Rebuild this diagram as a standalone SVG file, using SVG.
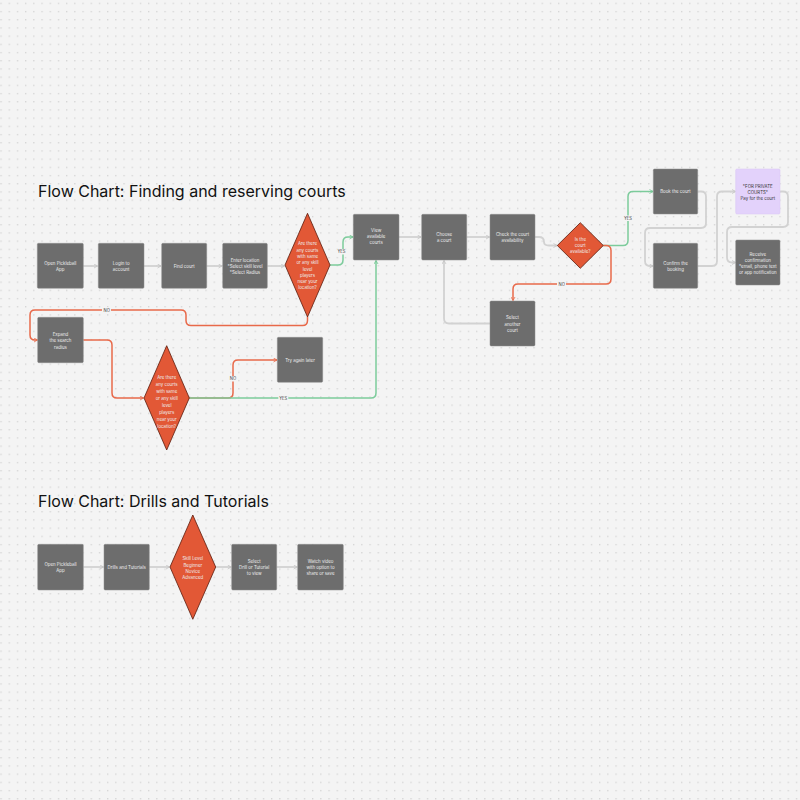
<svg xmlns="http://www.w3.org/2000/svg" width="800" height="800" viewBox="0 0 800 800">
<defs>
<pattern id="dots" patternUnits="userSpaceOnUse" x="0.4" y="2.7" width="8.2" height="8.2">
<rect x="0" y="0" width="1.3" height="1.3" fill="#d3d3d3"/>
</pattern>
<marker id="ag" viewBox="0 0 10 10" refX="9" refY="5" markerWidth="5" markerHeight="5" markerUnits="userSpaceOnUse" orient="auto"><path d="M2,1 L9,5 L2,9" fill="none" stroke="#c4c4c4" stroke-width="1.6"/></marker>
<marker id="agr" viewBox="0 0 10 10" refX="9" refY="5" markerWidth="5" markerHeight="5" markerUnits="userSpaceOnUse" orient="auto"><path d="M2,1 L9,5 L2,9" fill="none" stroke="#72c592" stroke-width="1.6"/></marker>
<marker id="ao" viewBox="0 0 10 10" refX="9" refY="5" markerWidth="5" markerHeight="5" markerUnits="userSpaceOnUse" orient="auto"><path d="M2,1 L9,5 L2,9" fill="none" stroke="#e8694a" stroke-width="1.6"/></marker>
</defs>
<style>
.box{fill:#6d6d6d;stroke:#8c8c8c;stroke-width:0.5}
.dia{fill:#e25836;stroke:#5c1a0b;stroke-width:0.8}
.pur{fill:#e3d2fb;stroke:#d8c4f5;stroke-width:0.5}
.t{font-family:Inter,"Liberation Sans",sans-serif;font-size:4.4px;fill:#eeeeee;text-anchor:middle;dominant-baseline:central}
.td{fill:#333333}
.title{font-family:Inter,"Liberation Sans",sans-serif;font-size:16px;fill:#111111}
.cg{fill:none;stroke:#d2d2d2;stroke-width:1.8}
.cgr{fill:none;stroke:#7ccb9b;stroke-width:1.5}
.co{fill:none;stroke:#e8694a;stroke-width:1.5}
.lbl{font-family:Inter,"Liberation Sans",sans-serif;font-size:4.2px;fill:#444444;text-anchor:middle;dominant-baseline:central}
.lb{fill:#f4f4f4}
</style>
<rect width="800" height="800" fill="#f4f4f4"/>
<rect width="800" height="800" fill="url(#dots)"/>

<text class="title" x="38" y="197">Flow Chart: Finding and reserving courts</text>
<text class="title" x="38" y="507">Flow Chart: Drills and Tutorials</text>

<g id="connectors">
<path class="cg" d="M83.3,266 H97.5" marker-end="url(#ag)"/>
<path class="cg" d="M144,266 H161" marker-end="url(#ag)"/>
<path class="cg" d="M206.7,266 H222" marker-end="url(#ag)"/>
<path class="cg" d="M267.3,266 H284.5" marker-end="url(#ag)"/>
<path class="cgr" d="M330,265 H338 Q343,265 343,260 V242 Q343,237 348,237 H353" marker-end="url(#agr)"/>
<path class="cg" d="M399,237 H421" marker-end="url(#ag)"/>
<path class="cg" d="M466.7,237 H489.5" marker-end="url(#ag)"/>
<path class="cg" d="M535,237 H539 Q544,237 544,242 Q544,245.5 549,245.5 H557" marker-end="url(#ag)"/>
<path class="cgr" d="M603.3,245.5 H623 Q628,245.5 628,240.5 V196.5 Q628,191.5 633,191.5 H653" marker-end="url(#agr)"/>
<path class="co" d="M603.3,245.5 H606 Q611,245.5 611,250.5 V279 Q611,284 606,284 H518 Q513,284 513,289 V300.5" marker-end="url(#ao)"/>
<path class="cg" d="M490,323.5 H449 Q444,323.5 444,318.5 V260.5" marker-end="url(#ag)"/>
<path class="cg" d="M697.7,191.5 H701 Q706,191.5 706,196.5 V223 Q706,228 701,228 H650 Q645,228 645,233 V261 Q645,266 650,266 H653" marker-end="url(#ag)"/>
<path class="cg" d="M697.7,266 H712 Q717,266 717,261 V196.5 Q717,191.5 722,191.5 H735.5" marker-end="url(#ag)"/>
<path class="cg" d="M780,191.5 H783 Q788,191.5 788,196.5 V222 Q788,227 783,227 H732 Q727,227 727,232 V257.5 Q727,262.5 732,262.5 H735.5" marker-end="url(#ag)"/>
<path class="co" d="M307.5,317 V320.5 Q307.5,325.5 302.5,325.5 H191 Q186,325.5 186,320.5 V315 Q186,310 181,310 H35 Q30,310 30,315 V335 Q30,340 35,340 H37.5" marker-end="url(#ao)"/>
<path class="co" d="M83.3,340 H107 Q112,340 112,345 V393 Q112,398 117,398 H143.5" marker-end="url(#ao)"/>
<path class="co" d="M189.3,398 H228 Q233,398 233,393 V365 Q233,360 238,360 H277" marker-end="url(#ao)"/>
<path class="cgr" d="M189.3,398 H371 Q376,398 376,393 V260.5" marker-end="url(#agr)"/>
<path class="cg" d="M83.3,567 H103.5" marker-end="url(#ag)"/>
<path class="cg" d="M149.3,567 H169.5" marker-end="url(#ag)"/>
<path class="cg" d="M215.7,567 H231.2" marker-end="url(#ag)"/>
<path class="cg" d="M276.7,567 H297.2" marker-end="url(#ag)"/>
<rect class="lb" x="336.5" y="249" width="10" height="5.5"/><text class="lbl" x="341.5" y="251.7">YES</text>
<rect class="lb" x="623" y="215.5" width="10" height="5.5"/><text class="lbl" x="628" y="218.3">YES</text>
<rect class="lb" x="557" y="281.3" width="9" height="5.5"/><text class="lbl" x="561.7" y="284.2">NO</text>
<rect class="lb" x="102" y="307.3" width="9" height="5.5"/><text class="lbl" x="106.7" y="310">NO</text>
<rect class="lb" x="228.5" y="376" width="9" height="5.5"/><text class="lbl" x="233" y="378.8">NO</text>
<rect class="lb" x="278.3" y="395.3" width="10" height="5.5"/><text class="lbl" x="283.3" y="398.2">YES</text>
</g>

<g id="open-app">
<rect class="box" x="37.3" y="243.3" width="46" height="45" rx="1.2"/>
<text class="t" x="60.3"><tspan x="60.3" y="263.3">Open Pickleball</tspan><tspan x="60.3" y="269.3">App</tspan></text>
</g>
<g id="login">
<rect class="box" x="98.3" y="243.3" width="45.7" height="45" rx="1.2"/>
<text class="t"><tspan x="121.2" y="263.3">Login to</tspan><tspan x="121.2" y="269.3">account</tspan></text>
</g>
<g id="find-court">
<rect class="box" x="161.7" y="243.3" width="45" height="45" rx="1.2"/>
<text class="t" x="184.2" y="266">Find court</text>
</g>
<g id="enter-location">
<rect class="box" x="222.7" y="243.3" width="44.6" height="45" rx="1.2"/>
<text class="t"><tspan x="245" y="259.7">Enter location</tspan><tspan x="245" y="266">*Select skill level</tspan><tspan x="245" y="272.3">*Select Radius</tspan></text>
</g>
<g id="decision-courts-near">
<polygon class="dia" points="307.5,213.3 330,265 307.5,317 285,265"/>
<text class="t"><tspan x="307.5" y="243.3">Are there</tspan><tspan x="307.5" y="249.6">any courts</tspan><tspan x="307.5" y="255.9">with same</tspan><tspan x="307.5" y="262.2">or any skill</tspan><tspan x="307.5" y="268.5">level</tspan><tspan x="307.5" y="274.8">players</tspan><tspan x="307.5" y="281.1">near your</tspan><tspan x="307.5" y="287.4">location?</tspan></text>
</g>
<g id="view-available">
<rect class="box" x="353.3" y="214.3" width="45.7" height="45.7" rx="1.2"/>
<text class="t"><tspan x="376.2" y="229.5">View</tspan><tspan x="376.2" y="235.8">available</tspan><tspan x="376.2" y="242.1">courts</tspan></text>
</g>
<g id="choose-court">
<rect class="box" x="421.7" y="214.3" width="45" height="45.7" rx="1.2"/>
<text class="t"><tspan x="444.2" y="234">Choose</tspan><tspan x="444.2" y="240">a court</tspan></text>
</g>
<g id="check-availability">
<rect class="box" x="490" y="214.3" width="45" height="45.7" rx="1.2"/>
<text class="t"><tspan x="512.5" y="234">Check the court</tspan><tspan x="512.5" y="240">availability</tspan></text>
</g>
<g id="decision-available">
<polygon class="dia" points="580.3,222.7 603.3,245.5 580.3,268.3 557.3,245.5"/>
<text class="t"><tspan x="580.3" y="239">Is the</tspan><tspan x="580.3" y="245.2">court</tspan><tspan x="580.3" y="251.4">available?</tspan></text>
</g>
<g id="select-another">
<rect class="box" x="490" y="301" width="45" height="45" rx="1.2"/>
<text class="t"><tspan x="512.5" y="317.3">Select</tspan><tspan x="512.5" y="323.6">another</tspan><tspan x="512.5" y="329.9">court</tspan></text>
</g>
<g id="book-court">
<rect class="box" x="653.3" y="169" width="44.4" height="45" rx="1.2"/>
<text class="t" x="675.5" y="191.5">Book the court</text>
</g>
<g id="pay-private">
<rect class="pur" x="735.7" y="169" width="44.3" height="45" rx="1.2"/>
<text class="t td"><tspan x="757.8" y="185.7">*FOR PRIVATE</tspan><tspan x="757.8" y="191.9">COURTS*</tspan><tspan x="757.8" y="198.1">Pay for the court</tspan></text>
</g>
<g id="confirm-booking">
<rect class="box" x="653.3" y="243.3" width="44.4" height="45" rx="1.2"/>
<text class="t"><tspan x="675.5" y="262.8">Confirm the</tspan><tspan x="675.5" y="268.8">booking</tspan></text>
</g>
<g id="receive-confirmation">
<rect class="box" x="735.7" y="240" width="44.3" height="45" rx="1.2"/>
<text class="t"><tspan x="757.8" y="254">Receive</tspan><tspan x="757.8" y="260.1">confirmation</tspan><tspan x="757.8" y="266.2">*email, phone text</tspan><tspan x="757.8" y="272.3">or app notification</tspan></text>
</g>
<g id="expand-radius">
<rect class="box" x="37.7" y="317.3" width="45.6" height="45.4" rx="1.2"/>
<text class="t"><tspan x="60.5" y="334">Expand</tspan><tspan x="60.5" y="340.3">the search</tspan><tspan x="60.5" y="346.6">radius</tspan></text>
</g>
<g id="decision-courts-near-2">
<polygon class="dia" points="166.7,345.7 189.3,398 166.7,450 144,398"/>
<text class="t"><tspan x="166.7" y="376.7">Are there</tspan><tspan x="166.7" y="383.7">any courts</tspan><tspan x="166.7" y="390.7">with same</tspan><tspan x="166.7" y="397.7">or any skill</tspan><tspan x="166.7" y="404.7">level</tspan><tspan x="166.7" y="411.7">players</tspan><tspan x="166.7" y="418.7">near your</tspan><tspan x="166.7" y="425.7">location?</tspan></text>
</g>
<g id="try-again">
<rect class="box" x="277.3" y="337.3" width="45.4" height="45" rx="1.2"/>
<text class="t" x="300" y="360">Try again later</text>
</g>

<g id="d-open-app">
<rect class="box" x="37.7" y="544.3" width="45.6" height="45.7" rx="1.2"/>
<text class="t"><tspan x="60.5" y="564">Open Pickleball</tspan><tspan x="60.5" y="570">App</tspan></text>
</g>
<g id="d-drills">
<rect class="box" x="104" y="544.3" width="45.3" height="45.7" rx="1.2"/>
<text class="t" x="126.7" y="567.2">Drills and Tutorials</text>
</g>
<g id="d-skill-level">
<polygon class="dia" points="192.8,515 215.7,567 192.8,619.3 170,567"/>
<text class="t"><tspan x="192.8" y="558.3">Skill Level</tspan><tspan x="192.8" y="564.5">Beginner</tspan><tspan x="192.8" y="570.7">Novice</tspan><tspan x="192.8" y="576.9">Advanced</tspan></text>
</g>
<g id="d-select">
<rect class="box" x="231.7" y="544.3" width="45" height="45.7" rx="1.2"/>
<text class="t"><tspan x="254.2" y="561">Select</tspan><tspan x="254.2" y="567.2">Drill or Tutorial</tspan><tspan x="254.2" y="573.4">to view</tspan></text>
</g>
<g id="d-watch">
<rect class="box" x="297.7" y="544.3" width="45.6" height="45.7" rx="1.2"/>
<text class="t"><tspan x="320.5" y="561">Watch video</tspan><tspan x="320.5" y="567.2">with option to</tspan><tspan x="320.5" y="573.4">share or save</tspan></text>
</g>
</svg>
